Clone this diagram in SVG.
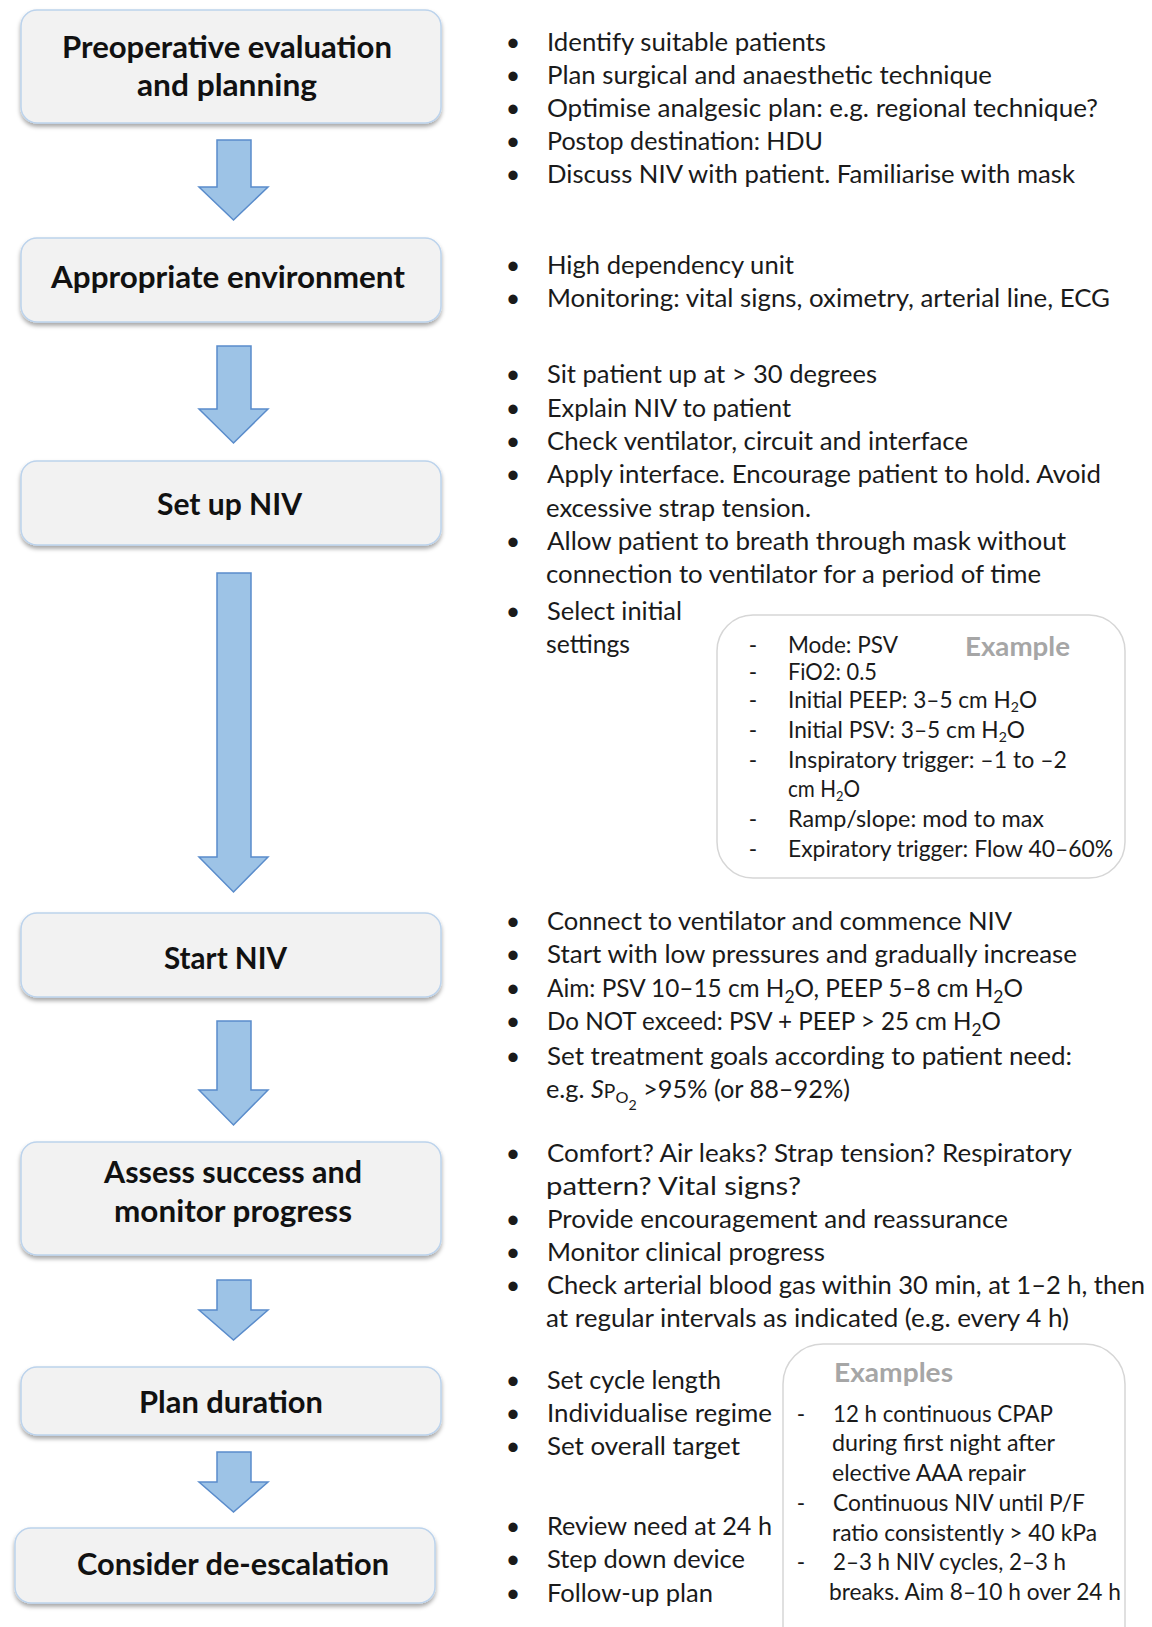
<svg xmlns="http://www.w3.org/2000/svg" width="1152" height="1627" viewBox="0 0 1152 1627">
  <defs>
    <filter id="shadow" x="-5%" y="-15%" width="110%" height="140%">
      <feDropShadow dx="0" dy="3" stdDeviation="2" flood-color="#000" flood-opacity="0.35"/>
    </filter>
    <style>
      .step { fill: #f2f2f2; stroke: #bcd3ec; stroke-width: 1.5; filter: url(#shadow); }
      .title { font-family: Lato, "Liberation Sans", sans-serif; font-weight: 700; font-size: 30px; fill: #111; text-anchor: middle; }
      .arrow { fill: #9dc3e6; stroke: #5a8ccb; stroke-width: 1.5; stroke-linejoin: miter; }
      .txt { font-family: Lato, "Liberation Sans", sans-serif; font-size: 25px; fill: #1a1a1a; }
      .bul { font-family: Lato, "Liberation Sans", sans-serif; font-size: 25px; fill: #1a1a1a; text-anchor: middle; }
      .sm { font-family: Lato, "Liberation Sans", sans-serif; font-size: 22.5px; fill: #1a1a1a; }
      .dash { font-family: Lato, "Liberation Sans", sans-serif; font-size: 22.5px; fill: #1a1a1a; text-anchor: middle; }
      .hint { font-family: Lato, "Liberation Sans", sans-serif; font-weight: 700; font-size: 27.5px; fill: #a6a6a6; }
      .panel { fill: #fff; stroke: #d6d6d6; stroke-width: 1.5; }
    </style>
  </defs>

  <rect width="1152" height="1627" fill="#fff"/>

  <!-- flow steps -->
  <g id="step-preoperative">
    <rect class="step" x="21" y="10" width="420" height="113" rx="16"/>
    <text class="title" x="227" y="58" textLength="330" lengthAdjust="spacingAndGlyphs">Preoperative evaluation</text>
    <text class="title" x="227" y="96" textLength="180" lengthAdjust="spacingAndGlyphs">and planning</text>
  </g>
  <g id="step-environment">
    <rect class="step" x="21" y="238" width="420" height="84" rx="16"/>
    <text class="title" x="228" y="288" textLength="354" lengthAdjust="spacingAndGlyphs">Appropriate environment</text>
  </g>
  <g id="step-setup">
    <rect class="step" x="21" y="461" width="420" height="84" rx="16"/>
    <text class="title" x="229.5" y="515" textLength="145" lengthAdjust="spacingAndGlyphs">Set up NIV</text>
  </g>
  <g id="step-start">
    <rect class="step" x="21" y="913" width="420" height="84" rx="16"/>
    <text class="title" x="225.5" y="969" textLength="123" lengthAdjust="spacingAndGlyphs">Start NIV</text>
  </g>
  <g id="step-assess">
    <rect class="step" x="21" y="1142" width="420" height="113" rx="16"/>
    <text class="title" x="233" y="1183" textLength="258" lengthAdjust="spacingAndGlyphs">Assess success and</text>
    <text class="title" x="233" y="1222" textLength="238" lengthAdjust="spacingAndGlyphs">monitor progress</text>
  </g>
  <g id="step-duration">
    <rect class="step" x="21" y="1367" width="420" height="68" rx="16"/>
    <text class="title" x="231" y="1413" textLength="184" lengthAdjust="spacingAndGlyphs">Plan duration</text>
  </g>
  <g id="step-deescalation">
    <rect class="step" x="15" y="1528" width="420" height="75" rx="16"/>
    <text class="title" x="233" y="1575" textLength="312" lengthAdjust="spacingAndGlyphs">Consider de-escalation</text>
  </g>

  <!-- block arrows between steps -->
  <g id="connectors">
    <path class="arrow" d="M217,140 H251 V187 H268 L233.5,220 L199,187 H217 Z"/>
    <path class="arrow" d="M217,346 H251 V409 H268 L233.5,443 L199,409 H217 Z"/>
    <path class="arrow" d="M217,573 H251 V857 H268 L233.5,892 L199,857 H217 Z"/>
    <path class="arrow" d="M217,1021 H251 V1090 H268 L233.5,1125 L199,1090 H217 Z"/>
    <path class="arrow" d="M217,1280 H251 V1310 H268 L233.5,1340 L199,1310 H217 Z"/>
    <path class="arrow" d="M217,1452 H251 V1482 H268 L233.5,1512 L199,1482 H217 Z"/>
  </g>

  <!-- notes: preoperative -->
  <g id="notes-preoperative">
    <text class="bul" x="513" y="51">•</text>
    <text class="txt" x="547" y="51" textLength="279" lengthAdjust="spacingAndGlyphs">Identify suitable patients</text>
    <text class="bul" x="513" y="84">•</text>
    <text class="txt" x="547" y="84" textLength="445" lengthAdjust="spacingAndGlyphs">Plan surgical and anaesthetic technique</text>
    <text class="bul" x="513" y="117">•</text>
    <text class="txt" x="547" y="117" textLength="551" lengthAdjust="spacingAndGlyphs">Optimise analgesic plan: e.g. regional technique?</text>
    <text class="bul" x="513" y="150">•</text>
    <text class="txt" x="547" y="150" textLength="276" lengthAdjust="spacingAndGlyphs">Postop destination: HDU</text>
    <text class="bul" x="513" y="183">•</text>
    <text class="txt" x="547" y="183" textLength="528" lengthAdjust="spacingAndGlyphs">Discuss NIV with patient. Familiarise with mask</text>
  </g>

  <!-- notes: environment -->
  <g id="notes-environment">
    <text class="bul" x="513" y="274">•</text>
    <text class="txt" x="547" y="274" textLength="247" lengthAdjust="spacingAndGlyphs">High dependency unit</text>
    <text class="bul" x="513" y="307">•</text>
    <text class="txt" x="547" y="307" textLength="563" lengthAdjust="spacingAndGlyphs">Monitoring: vital signs, oximetry, arterial line, ECG</text>
  </g>

  <!-- notes: set up -->
  <g id="notes-setup">
    <text class="bul" x="513" y="383">•</text>
    <text class="txt" x="547" y="383" textLength="330" lengthAdjust="spacingAndGlyphs">Sit patient up at &gt; 30 degrees</text>
    <text class="bul" x="513" y="417">•</text>
    <text class="txt" x="547" y="417" textLength="244" lengthAdjust="spacingAndGlyphs">Explain NIV to patient</text>
    <text class="bul" x="513" y="450">•</text>
    <text class="txt" x="547" y="450" textLength="421" lengthAdjust="spacingAndGlyphs">Check ventilator, circuit and interface</text>
    <text class="bul" x="513" y="483">•</text>
    <text class="txt" x="547" y="483" textLength="554" lengthAdjust="spacingAndGlyphs">Apply interface. Encourage patient to hold. Avoid</text>
    <text class="txt" x="546" y="517" textLength="265" lengthAdjust="spacingAndGlyphs">excessive strap tension.</text>
    <text class="bul" x="513" y="550">•</text>
    <text class="txt" x="547" y="550" textLength="519" lengthAdjust="spacingAndGlyphs">Allow patient to breath through mask without</text>
    <text class="txt" x="546" y="583" textLength="495" lengthAdjust="spacingAndGlyphs">connection to ventilator for a period of time</text>
    <text class="bul" x="513" y="620">•</text>
    <text class="txt" x="547" y="620" textLength="135" lengthAdjust="spacingAndGlyphs">Select initial</text>
    <text class="txt" x="546" y="653" textLength="84" lengthAdjust="spacingAndGlyphs">settings</text>
  </g>

  <!-- example initial settings panel -->
  <g id="panel-settings">
    <rect class="panel" x="717" y="615" width="408" height="263" rx="36"/>
    <text class="hint" x="965" y="656" textLength="105" lengthAdjust="spacingAndGlyphs">Example</text>
    <text class="dash" x="753" y="653">-</text>
    <text class="sm" x="788" y="653" textLength="110" lengthAdjust="spacingAndGlyphs">Mode: PSV</text>
    <text class="dash" x="753" y="680">-</text>
    <text class="sm" x="788" y="680" textLength="89" lengthAdjust="spacingAndGlyphs">FiO2: 0.5</text>
    <text class="dash" x="753" y="708">-</text>
    <text class="sm" x="788" y="708" textLength="249" lengthAdjust="spacingAndGlyphs">Initial PEEP: 3–5 cm H<tspan dy="4" font-size="14">2</tspan><tspan dy="-4">O</tspan></text>
    <text class="dash" x="753" y="738">-</text>
    <text class="sm" x="788" y="738" textLength="237" lengthAdjust="spacingAndGlyphs">Initial PSV: 3–5 cm H<tspan dy="4" font-size="14">2</tspan><tspan dy="-4">O</tspan></text>
    <text class="dash" x="753" y="768">-</text>
    <text class="sm" x="788" y="768" textLength="279" lengthAdjust="spacingAndGlyphs">Inspiratory trigger: –1 to –2</text>
    <text class="sm" x="788" y="797" textLength="72" lengthAdjust="spacingAndGlyphs">cm H<tspan dy="4" font-size="14">2</tspan><tspan dy="-4">O</tspan></text>
    <text class="dash" x="753" y="827">-</text>
    <text class="sm" x="788" y="827" textLength="256" lengthAdjust="spacingAndGlyphs">Ramp/slope: mod to max</text>
    <text class="dash" x="753" y="857">-</text>
    <text class="sm" x="788" y="857" textLength="325" lengthAdjust="spacingAndGlyphs">Expiratory trigger: Flow 40–60%</text>
  </g>

  <!-- notes: start -->
  <g id="notes-start">
    <text class="bul" x="513" y="930">•</text>
    <text class="txt" x="547" y="930" textLength="465" lengthAdjust="spacingAndGlyphs">Connect to ventilator and commence NIV</text>
    <text class="bul" x="513" y="963">•</text>
    <text class="txt" x="547" y="963" textLength="530" lengthAdjust="spacingAndGlyphs">Start with low pressures and gradually increase</text>
    <text class="bul" x="513" y="997">•</text>
    <text class="txt" x="547" y="997" textLength="476" lengthAdjust="spacingAndGlyphs">Aim: PSV 10–15 cm H<tspan dy="6" font-size="18">2</tspan><tspan dy="-6">O, PEEP 5–8 cm H</tspan><tspan dy="6" font-size="18">2</tspan><tspan dy="-6">O</tspan></text>
    <text class="bul" x="513" y="1030">•</text>
    <text class="txt" x="547" y="1030" textLength="454" lengthAdjust="spacingAndGlyphs">Do NOT exceed: PSV + PEEP &gt; 25 cm H<tspan dy="6" font-size="18">2</tspan><tspan dy="-6">O</tspan></text>
    <text class="bul" x="513" y="1065">•</text>
    <text class="txt" x="547" y="1065" textLength="525" lengthAdjust="spacingAndGlyphs">Set treatment goals according to patient need:</text>
    <text class="txt" x="546" y="1098" textLength="304" lengthAdjust="spacingAndGlyphs">e.g. <tspan font-style="italic">S</tspan><tspan font-size="19">P</tspan><tspan dy="5" font-size="16">O</tspan><tspan dy="7" font-size="14">2</tspan><tspan dy="-12"> &gt;95% (or 88–92%)</tspan></text>
  </g>

  <!-- notes: assess -->
  <g id="notes-assess">
    <text class="bul" x="513" y="1162">•</text>
    <text class="txt" x="547" y="1162" textLength="525" lengthAdjust="spacingAndGlyphs">Comfort? Air leaks? Strap tension? Respiratory</text>
    <text class="txt" x="546" y="1195" textLength="255" lengthAdjust="spacingAndGlyphs">pattern? Vital signs?</text>
    <text class="bul" x="513" y="1228">•</text>
    <text class="txt" x="547" y="1228" textLength="461" lengthAdjust="spacingAndGlyphs">Provide encouragement and reassurance</text>
    <text class="bul" x="513" y="1261">•</text>
    <text class="txt" x="547" y="1261" textLength="278" lengthAdjust="spacingAndGlyphs">Monitor clinical progress</text>
    <text class="bul" x="513" y="1294">•</text>
    <text class="txt" x="547" y="1294" textLength="598" lengthAdjust="spacingAndGlyphs">Check arterial blood gas within 30 min, at 1–2 h, then</text>
    <text class="txt" x="546" y="1327" textLength="523" lengthAdjust="spacingAndGlyphs">at regular intervals as indicated (e.g. every 4 h)</text>
  </g>

  <!-- notes: duration and de-escalation -->
  <g id="notes-duration">
    <text class="bul" x="513" y="1389">•</text>
    <text class="txt" x="547" y="1389" textLength="174" lengthAdjust="spacingAndGlyphs">Set cycle length</text>
    <text class="bul" x="513" y="1422">•</text>
    <text class="txt" x="547" y="1422" textLength="225" lengthAdjust="spacingAndGlyphs">Individualise regime</text>
    <text class="bul" x="513" y="1455">•</text>
    <text class="txt" x="547" y="1455" textLength="193" lengthAdjust="spacingAndGlyphs">Set overall target</text>
  </g>
  <g id="notes-deescalation">
    <text class="bul" x="513" y="1535">•</text>
    <text class="txt" x="547" y="1535" textLength="225" lengthAdjust="spacingAndGlyphs">Review need at 24 h</text>
    <text class="bul" x="513" y="1568">•</text>
    <text class="txt" x="547" y="1568" textLength="198" lengthAdjust="spacingAndGlyphs">Step down device</text>
    <text class="bul" x="513" y="1602">•</text>
    <text class="txt" x="547" y="1602" textLength="166" lengthAdjust="spacingAndGlyphs">Follow-up plan</text>
  </g>

  <!-- example regimes panel -->
  <g id="panel-regimes">
    <rect class="panel" x="783" y="1344" width="342" height="330" rx="40"/>
    <text class="hint" x="834" y="1382" textLength="119" lengthAdjust="spacingAndGlyphs">Examples</text>
    <text class="dash" x="801" y="1422">-</text>
    <text class="sm" x="833" y="1422" textLength="220" lengthAdjust="spacingAndGlyphs">12 h continuous CPAP</text>
    <text class="sm" x="832" y="1451" textLength="223" lengthAdjust="spacingAndGlyphs">during first night after</text>
    <text class="sm" x="832" y="1481" textLength="194" lengthAdjust="spacingAndGlyphs">elective AAA repair</text>
    <text class="dash" x="801" y="1511">-</text>
    <text class="sm" x="833" y="1511" textLength="252" lengthAdjust="spacingAndGlyphs">Continuous NIV until P/F</text>
    <text class="sm" x="832" y="1541" textLength="265" lengthAdjust="spacingAndGlyphs">ratio consistently &gt; 40 kPa</text>
    <text class="dash" x="801" y="1570">-</text>
    <text class="sm" x="833" y="1570" textLength="233" lengthAdjust="spacingAndGlyphs">2–3 h NIV cycles, 2–3 h</text>
    <text class="sm" x="829" y="1600" textLength="292" lengthAdjust="spacingAndGlyphs">breaks. Aim 8–10 h over 24 h</text>
  </g>
</svg>
